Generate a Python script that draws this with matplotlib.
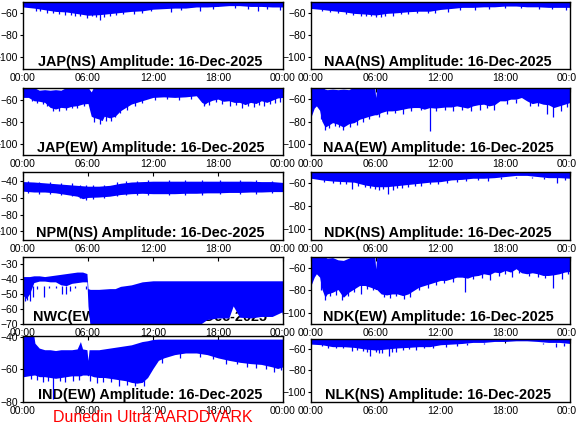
import matplotlib
matplotlib.use("Agg")
import matplotlib.pyplot as plt

plt.rcParams['font.family'] = ['Liberation Sans', 'DejaVu Sans']

DATE = "16-Dec-2025"
hour_ticks = [0, 6, 12, 18, 24]
hour_labels = ["00:00", "06:00", "12:00", "18:00", "00:00"]
hours = list(range(25))

# JAP(NS) - lower edge of the band, top is clipped
jap_ns_lo = [-54.5, -55.5, -57, -58.5, -59, -60.5, -62, -61.5, -60.5, -59.5, -58.5, -58, -56.5,
             -56, -55.5, -55.5, -54.5, -54.5, -54, -53.3, -53.3, -54, -54, -54.5, -54.5]
jap_ns_hi = -49.0
jap_ns_spk_t = [1.2, 1.6, 2.2, 2.8, 3.3, 3.9, 4.4, 4.8, 5.3, 5.9, 6.35, 6.7, 7.1, 7.5, 8.0, 8.6, 9.2,
                10.2, 11.0, 11.8, 13.7, 14.6, 16.3, 17.5, 19.6, 20.8, 21.7, 22.5, 23.7]
jap_ns_spk_lo = [-58, -58.5, -59.5, -60, -60.5, -61.5, -61.5, -62.5, -63, -64.5, -63, -64, -66, -63.5, -63, -62, -61,
                 -60.5, -59.5, -58.5, -59.4, -57.5, -58, -56.5, -55.5, -56.5, -58.5, -56.5, -57]

# NAA(NS)
naa_ns_lo = [-55.5, -56.4, -57.6, -58.5, -60, -60.6, -61.5, -60, -59.4, -58.5, -58, -58, -56.4,
             -55.5, -54.5, -54.5, -54, -54, -53.3, -53.3, -54, -54, -54.5, -54.5, -54.5]
naa_ns_hi = -49.0
naa_ns_spk_t = [1.0, 1.8, 2.5, 3.2, 3.9, 4.6, 5.1, 5.6, 6.0, 6.5, 6.9, 7.6, 8.3, 9.0, 9.8, 10.8, 11.5,
                12.7, 13.8, 15.2, 16.5, 18.0, 19.5, 21.1, 22.3, 23.6]
naa_ns_spk_lo = [-58, -59, -60, -60.5, -61.5, -62.5, -62, -62.5, -63, -63.5, -62.5, -62, -61, -60.5, -60, -60, -59.5,
                 -59, -57, -56.5, -56, -55.5, -55, -56, -56, -57]

# JAP(EW)
jap_ew_t = [0, 0.5, 1, 1.5, 2, 2.5, 3, 3.5, 4, 4.5, 5, 5.5, 6, 6.3, 6.5, 7, 7.3, 7.5, 8, 8.5,
            9, 9.5, 10, 10.5, 11, 11.5, 12, 13, 14, 15, 16, 16.5, 16.8, 17, 17.5, 18, 18.5, 19, 19.5, 20,
            20.5, 21, 21.5, 22, 22.5, 23, 23.5, 24]
jap_ew_lo = [-58, -58, -61, -61.5, -62.5, -67, -68.5, -67, -67.5, -66, -65.5, -64, -63.5, -75, -76, -77.5, -79, -75, -76.5, -75,
             -70, -67, -64, -62.5, -61, -59.5, -58, -57.5, -58, -57.5, -56.5, -62.5, -64, -62.5, -60.5, -59.5, -61.5, -61, -62.5, -62.5,
             -64.5, -62.5, -63.5, -61, -62.5, -60.5, -58.5, -58]
jap_ew_hi = [-49, -49, -49, -51.5, -51, -51.5, -51, -51.5, -49, -49, -49, -49, -49, -53, -49, -49, -49, -49, -49, -49,
             -49, -49, -49, -49, -49, -49, -49, -49, -49, -49, -49, -49, -49, -49, -49, -49, -49, -49, -49, -49,
             -49, -49, -49, -49, -49, -49, -49, -49]
jap_ew_spk_t = [0.8, 1.3, 1.8, 2.2, 2.8, 3.3, 4.0, 4.5, 5.0, 5.6, 6.6, 7.1, 7.7, 8.1, 8.5, 9.0, 9.6, 10.3,
                11.0, 12.2, 13.3, 14.4, 15.5, 16.7, 17.2, 17.8, 18.4, 19.1, 19.7, 20.2, 20.8, 21.3, 21.8, 22.2,
                22.8, 23.3, 23.7]
jap_ew_spk_lo = [-61, -63, -64, -66, -70, -70, -69.5, -68, -67.5, -66, -80.5, -81.6, -79, -79, -76, -72, -69, -65.5,
                 -63, -60, -59.5, -60, -59.5, -65.5, -64.5, -62.5, -63.5, -66, -64.5, -68, -66, -67, -65, -66,
                 -64, -63, -62]

# NAA(EW)
naa_ew_t = [0, 0.3, 0.5, 0.8, 1, 1.3, 1.5, 2, 2.5, 3, 3.5, 4, 4.5, 5, 5.5, 5.9, 6.0, 6.1, 6.5, 7,
            7.5, 8, 8.5, 9, 9.5, 10, 10.5, 11, 11.5, 12, 12.5, 13, 13.5, 14, 14.5, 15, 15.5, 16, 16.5, 17,
            17.5, 18, 18.5, 19, 19.5, 20, 20.5, 21, 21.5, 22, 22.5, 23, 23.5, 24]
naa_ew_lo = [-76, -68, -66, -70, -79.5, -85, -84, -81, -82.5, -85, -82, -81, -78, -76.5, -75, -74, -74, -74, -72, -70.5,
             -70.5, -70, -69, -68, -67.5, -67.5, -69, -67.5, -68, -67.5, -67, -67, -66, -67, -68, -66, -65, -64.5, -66, -65,
             -61.5, -61.5, -60, -60, -58.5, -61.5, -64, -63, -64.5, -65, -67.5, -66, -64.5, -63]
naa_ew_hi = [-49, -49, -49, -49, -49, -51, -51.5, -51, -51.5, -51, -51.5, -49, -49, -49, -49, -49, -58.5, -49, -49, -49,
             -49, -49, -49, -49, -49, -49, -49, -49, -49, -49, -49, -49, -49, -49, -49, -49, -49, -49, -49, -49,
             -49, -49, -49, -49, -49, -49, -49, -49, -49, -49, -49, -49, -49, -49]
naa_ew_spk_t = [0.9, 1.3, 1.7, 2.2, 2.6, 3.0, 3.6, 4.3, 4.8, 5.4, 6.3, 7.0, 7.8, 8.5, 9.3, 10.2, 11.0,
                11.6, 12.4, 13.2, 14.0, 14.8, 15.7, 16.3, 17.0, 18.2, 19.0, 20.3, 21.0, 21.9, 22.4, 23.2, 23.7]
naa_ew_spk_lo = [-78, -88, -86, -84, -85, -87.5, -85, -83, -80, -78, -76, -73.5, -72.5, -73, -71, -70, -88.5,
                 -71, -70, -71, -70, -71, -69.5, -68, -70, -64, -63, -66, -66.5, -73, -76, -71, -67]

# NPM(NS) - band with both edges visible
npm_t = [0, 0.05, 1, 2, 3, 4, 4.5, 5, 5.5, 6, 7, 8, 9, 10, 11, 12, 13, 14, 15, 16,
         17, 18, 19, 20, 21, 22, 23, 24]
npm_lo = [-111, -52, -53, -53, -54, -56, -57, -58, -61, -59.5, -59, -58, -56, -55, -54.5, -55, -55, -55, -54.5, -54.5,
          -54, -54, -53.5, -53.5, -53, -53, -52.5, -52.5]
npm_hi = [-40.5, -40.5, -41, -42, -43, -44, -44.5, -45, -45.5, -46, -46, -45, -42.5, -41, -40.5, -40, -40, -40, -40, -40,
          -40, -40, -40, -40, -40, -40.5, -40.5, -41.5]
npm_spk_t = [0.5, 1.5, 2.5, 3.5, 4.5, 5.3, 5.8, 6.5, 7.5, 8.7, 9.5, 10.5, 11.5, 13.5, 15.0, 16.5, 18.2,
             20.0, 21.5, 23.0]
npm_spk_lo = [-54.5, -55, -55.5, -57, -58, -60, -62, -61, -60.5, -58, -57, -56.5, -57, -57, -56.5, -56, -55.5,
              -55, -55, -54.5]
npm_spk_hi = [-40, -40.5, -41, -42, -42, -44, -45, -44.5, -44, -41, -40, -39.5, -39, -39, -39, -39, -39,
              -39, -39, -39.5]

# NDK(NS)
ndk_ns_lo = [-55.5, -57, -58, -58.5, -59, -61.5, -63, -63, -62, -61, -60, -59, -58.5,
             -57, -56.5, -55.5, -55.5, -55, -54, -53, -53, -54, -55, -55, -55.5]
ndk_ns_hi = -49.0
ndk_ns_spk_t = [1.2, 2.0, 2.7, 3.2, 3.8, 4.4, 5.0, 5.5, 5.9, 6.3, 6.7, 7.1, 7.6, 8.0, 8.4, 9.0, 9.6,
                10.2, 11.0, 11.8, 12.6, 13.5, 14.4, 15.5, 16.4, 17.6, 19.0, 20.5, 21.6, 22.8, 23.5]
ndk_ns_spk_lo = [-59, -60, -60.5, -61, -65, -62, -63, -64.5, -65, -66, -65, -69.5, -66, -64.5, -64, -63, -62,
                 -62.5, -61, -61, -59.5, -58.5, -58, -57, -58, -56.5, -55, -55.5, -56, -59.5, -57]

# NWC(EW) - transmitter change near 06:00
nwc_t = [0, 0.3, 0.6, 1, 1.5, 2, 2.5, 3, 3.5, 4, 4.5, 5, 5.5, 5.9, 6.0, 6.2, 7, 8, 8.5, 9,
         10, 11, 12, 13, 14, 15, 16, 17, 18, 19, 19.4, 20, 21, 22, 23, 23.9, 24]
nwc_lo = [-51, -53, -50, -42.5, -41.5, -41.5, -42, -42, -44, -44.5, -43, -42.5, -42, -42, -58, -72, -72, -72, -72, -72,
          -72, -72, -72, -72, -72, -72, -72, -67, -66, -66, -58, -65.5, -66, -65, -65, -62, -66]
nwc_hi = [-38.5, -38.5, -38.5, -38, -38, -38.5, -38, -37.5, -37, -36.5, -36, -35.5, -35.5, -36.5, -46.5, -47, -47, -46.5, -46.5, -45,
          -44, -42, -41.3, -41.3, -41.3, -41.3, -41.3, -41.3, -41.3, -41.3, -41.3, -41.3, -41.3, -41.3, -41.3, -41.3, -41.3]
nwc_spk_t = [0.2, 0.4, 0.65, 0.9, 1.3, 1.9, 2.4, 3.0, 3.6, 4.0, 4.3, 4.8, 5.4, 5.8]
nwc_spk_lo = [-55, -54, -54.4, -52, -47, -52.2, -46, -46, -50, -50, -47.8, -46, -45, -47]
nwc_spk_hi = -45.0

# NDK(EW)
ndk_ew_t = [0, 0.3, 0.5, 0.8, 1, 1.3, 1.5, 2, 2.5, 3, 3.5, 4, 4.5, 5, 5.5, 5.9, 6.0, 6.1, 6.5, 7,
            7.5, 8, 8.5, 9, 9.5, 10, 10.5, 11, 11.5, 12, 12.5, 13, 13.5, 14, 14.5, 15, 15.5, 16, 16.5, 17,
            17.5, 18, 18.5, 19, 19.5, 20, 20.5, 21, 21.5, 22, 22.5, 23, 23.5, 24]
ndk_ew_lo = [-75.8, -68.4, -65.4, -68.4, -78.8, -86.3, -83.3, -81.8, -79.4, -86.3, -81.8, -78.8, -75.8, -75.8, -77.3, -78.8, -79.4, -79.4, -83.3, -84.2,
             -83.3, -83.3, -84.8, -83.3, -80.3, -77.3, -75.8, -74.3, -72.8, -71.3, -71.3, -69.9, -68.4, -68.4, -69.3, -67.5, -66.9, -65.4, -66.3, -63.9,
             -64.5, -62.4, -63.9, -60.9, -64.5, -65.4, -64.5, -65.4, -66.9, -66.9, -66.3, -65.4, -63.9, -63.3]
ndk_ew_hi = [-49, -49, -49, -49, -49, -50.5, -51.5, -51, -53, -53.5, -51.5, -49, -49, -49, -49, -49, -61, -49, -49, -49,
             -49, -49, -49, -49, -49, -49, -49, -49, -49, -49, -49, -49, -49, -49, -49, -49, -49, -49, -49, -49,
             -49, -49, -49, -49, -49, -49, -49, -49, -49, -49, -49, -49, -49, -49]
ndk_ew_spk_t = [0.9, 1.3, 1.8, 2.3, 2.9, 3.4, 4.0, 4.6, 5.2, 5.7, 6.8, 7.3, 7.9, 8.6, 9.2, 10.0, 10.8,
                11.6, 12.3, 13.2, 14.3, 15.0, 15.8, 16.6, 17.4, 18.0, 18.6, 19.3, 20.2, 21.0, 21.7, 22.4, 23.3, 23.8]
ndk_ew_spk_lo = [-80, -89, -85, -84, -88.5, -85, -81.5, -83, -79, -80, -86, -86.5, -85.5, -88, -86, -80, -78,
                 -75.5, -74, -72.5, -82, -70, -69, -71, -67, -65.5, -68, -64.5, -67.5, -68, -69.5, -78, -70, -66]

# IND(EW)
ind_t = [0, 0.05, 0.5, 1, 1.1, 1.5, 2, 2.5, 3, 3.5, 4, 4.5, 5, 5.3, 5.5, 5.9, 6.0, 6.1, 6.5, 7,
         7.5, 8, 8.5, 9, 9.5, 10, 10.5, 11, 11.5, 12, 12.5, 13, 14, 15, 16, 17, 18, 19, 20, 21,
         22, 23, 23.5, 24]
ind_lo = [-80, -64.5, -64, -63.5, -63.5, -64.5, -64.5, -65, -65.5, -65, -64.5, -64, -64, -64, -63.5, -63.5, -64, -63.5, -64.5, -65,
          -65, -65.5, -66, -66.5, -67, -68, -68.5, -68, -65, -59.5, -54.5, -53, -51, -50, -50, -51, -53, -54.5, -55.7, -56.5,
          -57, -58.5, -59.5, -58.5]
ind_hi = [-39, -39, -39, -39.5, -44, -47, -48, -48, -48.5, -48, -48, -48, -47.5, -43, -47.5, -48, -54.5, -48, -48, -48,
          -47.5, -47, -46.5, -46, -45.5, -45, -44, -43, -42.5, -41.7, -41.5, -41.5, -41.5, -41.5, -41.5, -41.5, -41.5, -41.5, -41.5, -41.5,
          -41.5, -41.5, -41.5, -41.5]
ind_spk_t = [0.7, 1.3, 1.8, 2.3, 2.8, 3.4, 3.9, 4.6, 5.2, 6.2, 6.8, 7.4, 8.1, 8.9, 9.6, 10.3, 11.2,
             12.8, 14.5, 16.3, 17.5, 18.7, 19.8, 20.7, 21.5, 22.4, 23.2, 23.8]
ind_spk_lo = [-66, -66.5, -67.5, -67, -78, -67, -67.5, -67, -66.5, -67, -68.5, -67.5, -68, -70, -69.5, -70.5, -70,
              -56, -53, -52.5, -53.5, -57, -57, -58.5, -59, -60, -61.5, -60.5]
ind_spk_hi = [-55, -55, -55, -55, -55, -55, -55, -55, -55, -55, -55, -55, -55, -55, -55, -55, -55,
              -45, -45, -45, -45, -45, -45, -45, -45, -45, -45, -45]

# NLK(NS)
nlk_lo = [-55.4, -56, -57.8, -57.8, -58.5, -60, -61, -60, -59, -58.5, -57.8, -57.8, -56,
          -55.4, -54.8, -53.8, -53.8, -52.9, -52.9, -52.3, -52.3, -52.9, -53.8, -53.8, -54.8]
nlk_hi = -49.0
nlk_spk_t = [1.0, 1.6, 2.3, 3.0, 3.8, 4.3, 4.8, 5.2, 5.5, 6.0, 6.3, 6.6, 7.2, 7.5, 7.9, 8.5, 9.1,
             9.7, 10.5, 11.3, 12.5, 13.5, 14.5, 16.0, 17.5, 19.0, 20.5, 21.5, 22.7, 23.4]
nlk_spk_lo = [-57.5, -59, -59.5, -59.5, -61.5, -60.5, -62, -62.5, -66.5, -63, -63.5, -64, -67, -62.5, -63, -61, -60,
              -60.5, -59.5, -59.5, -58.5, -57, -56, -55.5, -54.5, -54, -54, -55, -58.5, -57]

ticks_std = [-100, -80, -60]

# name, t, lo, hi, spike t/lo/hi, ylim, yticks, axes box in pixels (left, top, right, bottom)
panels = [
    ("JAP(NS)", hours, jap_ns_lo, jap_ns_hi, jap_ns_spk_t, jap_ns_spk_lo, -52,
     (-110.6, -50), ticks_std, (23, 2, 283, 69)),
    ("NAA(NS)", hours, naa_ns_lo, naa_ns_hi, naa_ns_spk_t, naa_ns_spk_lo, -52,
     (-110.8, -49.6), ticks_std, (311, 2, 570, 69)),
    ("JAP(EW)", jap_ew_t, jap_ew_lo, jap_ew_hi, jap_ew_spk_t, jap_ew_spk_lo, -56,
     (-110, -49.5), ticks_std, (23, 88, 283, 155)),
    ("NAA(EW)", naa_ew_t, naa_ew_lo, naa_ew_hi, naa_ew_spk_t, naa_ew_spk_lo, -60,
     (-110, -50), ticks_std, (311, 88, 570, 155)),
    ("NPM(NS)", npm_t, npm_lo, npm_hi, npm_spk_t, npm_spk_lo, npm_spk_hi,
     (-110.5, -29), [-100, -80, -60, -40], (23, 172, 283, 240)),
    ("NDK(NS)", hours, ndk_ns_lo, ndk_ns_hi, ndk_ns_spk_t, ndk_ns_spk_lo, -54,
     (-110, -50), ticks_std, (311, 172, 570, 240)),
    ("NWC(EW)", nwc_t, nwc_lo, nwc_hi, nwc_spk_t, nwc_spk_lo, nwc_spk_hi,
     (-70, -25.5), [-70, -60, -50, -40, -30], (23, 257, 283, 324)),
    ("NDK(EW)", ndk_ew_t, ndk_ew_lo, ndk_ew_hi, ndk_ew_spk_t, ndk_ew_spk_lo, -60,
     (-110, -50.5), ticks_std, (311, 257, 570, 324)),
    ("IND(EW)", ind_t, ind_lo, ind_hi, ind_spk_t, ind_spk_lo, ind_spk_hi,
     (-80, -39.6), [-80, -60, -40], (23, 336, 283, 402)),
    ("NLK(NS)", hours, nlk_lo, nlk_hi, nlk_spk_t, nlk_spk_lo, -54,
     (-109.8, -50.6), ticks_std, (311, 339, 570, 402)),
]

W, H = 576, 432
fig = plt.figure(figsize=(W / 100, H / 100), dpi=100)

for name, t, lo, hi, st, slo, shi, ylim, yt, box in panels:
    l, tp, r, b = box
    ax = fig.add_axes([l / W, 1 - b / H, (r - l) / W, (b - tp) / H])
    ax.fill_between(t, lo, hi, color='#0000ff', lw=0, zorder=2)
    ax.vlines(st, slo, shi, color='#0000ff', lw=0.9, zorder=2)
    ax.set_xlim(0, 24)
    ax.set_ylim(*ylim)
    ax.set_xticks(hour_ticks)
    ax.set_xticklabels(hour_labels)
    ax.set_yticks(yt)
    ax.tick_params(axis='x', direction='in', length=3, bottom=False, top=True,
                   labelbottom=True, labelsize=7.5, pad=3, width=0.8)
    ax.tick_params(axis='y', direction='out', length=2.5, labelsize=7.5, pad=1, width=0.8)
    for s in ax.spines.values():
        s.set_linewidth(1.0)
        s.set_zorder(3)
    ax.text(0.49, 0.005, f"{name} Amplitude: {DATE}", transform=ax.transAxes,
            ha='center', va='bottom', fontsize=10.4, fontweight='bold', zorder=1)

fig.text(153 / W, 1 - 417 / H, "Dunedin Ultra AARDDVARK", color='red',
         fontsize=11.5, ha='center', va='center')

fig.savefig("out.png", dpi=100)
